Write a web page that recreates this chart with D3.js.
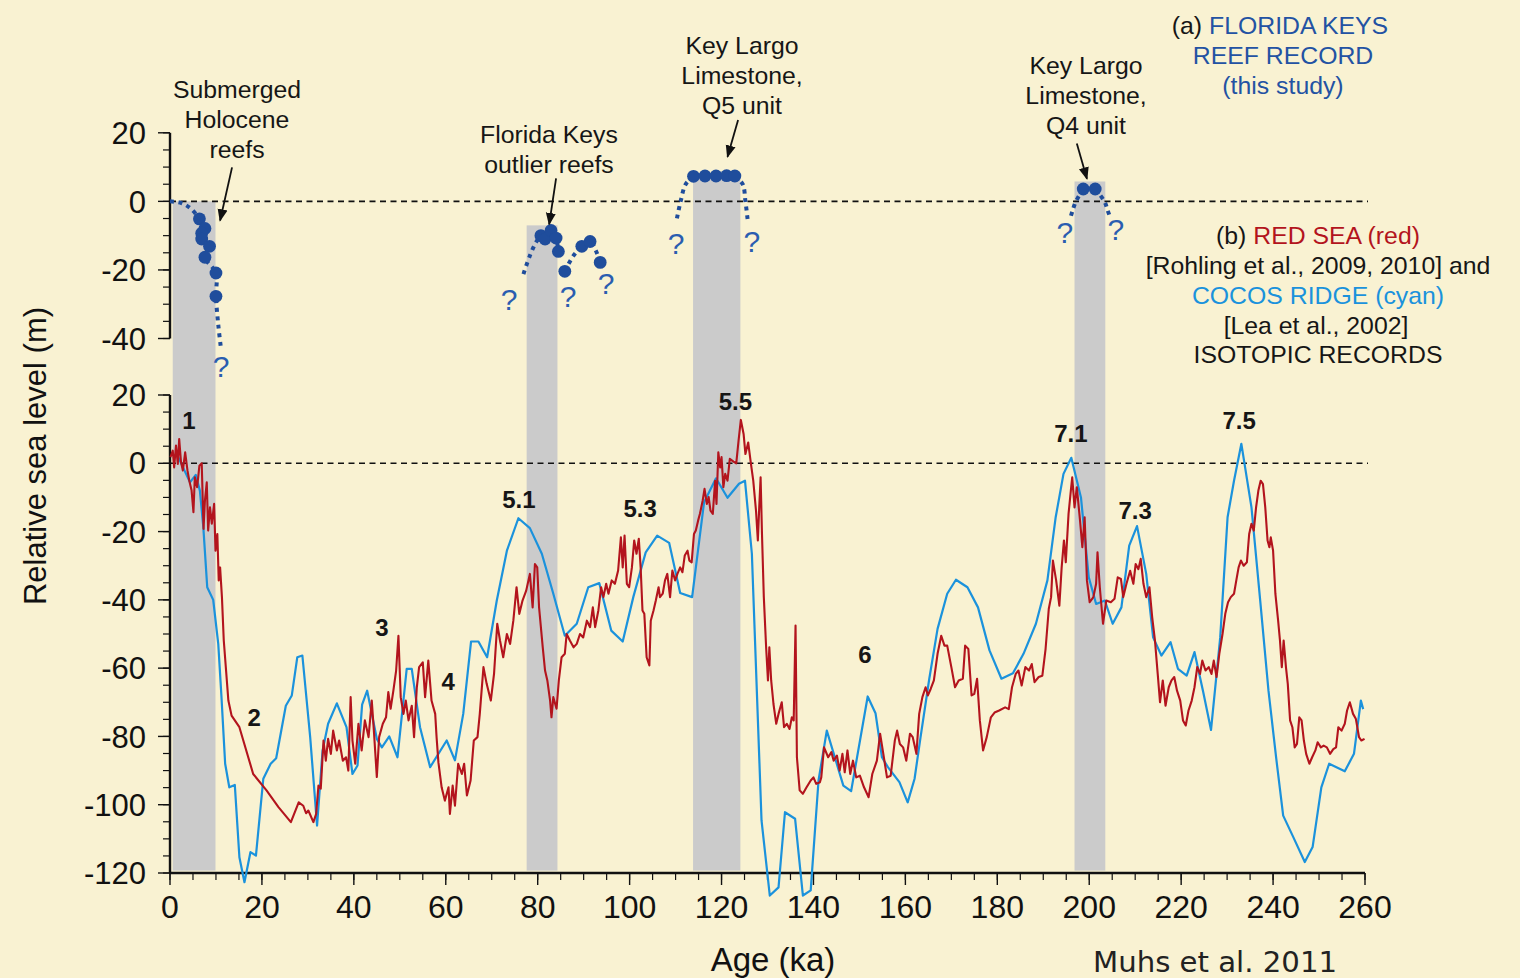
<!DOCTYPE html>
<html><head><meta charset="utf-8">
<script src="https://cdn.jsdelivr.net/npm/d3@7"></script>
<style>html,body{margin:0;padding:0;background:#f9f2d2;}svg{display:block;}</style>
</head><body>
<svg id="chart" width="1520" height="978"></svg>
<script>
// ---------- DATA ----------
const xTicks = [0,20,40,60,80,100,120,140,160,180,200,220,240,260];
const yTicksLower = [20,0,-20,-40,-60,-80,-100,-120];
const yTicksUpper = [20,0,-20,-40];

// grey bands: start ka, end ka, top (m, upper-panel scale)
const bandStart = [0.6, 77.6, 113.8, 196.8];
const bandEnd   = [9.9, 84.3, 124.1, 203.5];
const bandTop   = [0, -7, 7.5, 5.8];

// Florida Keys reef record dots [ka, m]
const holoceneDots = [[6.4,-5.1],[7.6,-7.9],[6.9,-9.3],[6.9,-11],[8.6,-13.1],[7.6,-16.3],[10,-20.9],[10,-27.7]];
const outlierDots = [[80.7,-10],[81.6,-11],[82.9,-8.5],[84,-10.7],[84.5,-14.6],[85.9,-20.4],[89.6,-13.1],[91.4,-11.7],[93.6,-17.8]];
const q5Dots = [[113.9,7.3],[116.4,7.4],[118.8,7.4],[121.1,7.5],[122.9,7.4]];
const q4Dots = [[198.7,3.6],[201.3,3.6]];

// dotted reef paths [ka, m]
const reefPaths = [
  [[0,0],[2.5,-0.5],[4.6,-2.2],[6.4,-5.1],[7.6,-7.9],[6.9,-9.3],[6.9,-11],[8.6,-13.1],[7.6,-16.3],[10,-20.9],[10,-27.7],[10.5,-36],[11.1,-43]],
  [[76.9,-21.2],[78.4,-15.5],[79.7,-11.8],[80.7,-10],[82.9,-8.5],[84,-10.7],[84.5,-14.6]],
  [[85.9,-20.4],[87.6,-16.2],[89.6,-13.1],[91.4,-11.7],[92.6,-14.2],[93.6,-17.8]],
  [[113.9,7.3],[112.2,5],[111.1,0],[110.2,-5.6]],
  [[122.9,7.4],[124.6,5],[125.2,0],[125.7,-5.6]],
  [[198.7,3.6],[197.1,0],[196.3,-3],[195.9,-4.8]],
  [[201.3,3.6],[203.3,0],[204.1,-3],[204.6,-4.8]]
];
const questionMarks = [[11.1,-48.2],[73.8,-28.4],[86.6,-27.8],[94.9,-24],[110.1,-12.3],[126.6,-11.7],[194.7,-9.1],[205.8,-8.2]];

// arrows [fromKa, fromM, toKa, toM] (upper scale)
const arrows = [[13.5,9.9,10.9,-5.6],[84,6.7,82.5,-6.7],[123.6,23.7,121.3,13],[197.3,16.9,199.5,6.6]];

// Red Sea record [ka, m]
const redSea = [
[0.1,1.8],[0.6,3.7],[0.9,-1.2],[1.3,5.2],[1.7,-0.2],[2.0,7.1],[2.4,0.3],[2.8,-2.1],[3.3,3.2],[3.8,-2.1],[4.2,-5.1],[4.7,-8],[5.1,-14.3],[5.4,-4.1],[5.9,-7],[6.4,-0.7],[6.9,0],[7.3,-19.2],[7.6,-10.9],[8.0,-5.6],[8.3,-19.7],[8.7,-12.9],[9.1,-17.7],[9.6,-11.9],[9.9,-25.6],[10.3,-20.7],[10.6,-34.3],[10.9,-30.5],[11.3,-39.2],[11.7,-51.9],[12.7,-69.5],[13.4,-73.9],[15.1,-77.3],[18.1,-91],[21.0,-95.8],[23.6,-100.7],[26.3,-105.1],[28.0,-99.3],[29.0,-100.3],[29.6,-102.5],[30.1,-101.7],[31.2,-105.1],[31.8,-102.7],[32.3,-94.4],[32.8,-95.3],[33.4,-81.2],[33.9,-87.1],[34.4,-80.7],[35.0,-85.1],[35.5,-78.3],[36.3,-84.1],[36.8,-81.2],[37.6,-87.1],[38.3,-86.1],[38.8,-90],[39.3,-68.5],[39.7,-81.2],[40.3,-88],[41.0,-76.3],[41.7,-84.1],[42.4,-75.3],[43.2,-80.2],[43.9,-69.5],[44.4,-79.2],[45.0,-91.9],[45.5,-80.2],[46.3,-76.3],[47.0,-74.4],[47.5,-67],[48.0,-71.9],[48.6,-66.6],[49.2,-60.7],[49.7,-50.5],[50.2,-68.5],[50.8,-73.4],[51.3,-69.5],[51.9,-75.3],[52.6,-71],[53.1,-80.2],[53.7,-65.6],[54.2,-59.7],
[55.0,-58.3],[55.5,-68.5],[56.2,-57.8],[56.9,-69.5],[57.7,-73.4],[58.0,-80.2],[58.4,-87.6],[59.1,-94.9],[59.8,-98.8],[60.6,-94.9],[60.9,-102.7],[61.5,-94.4],[62.0,-100.3],[62.7,-88],[63.5,-91],[64.0,-88],[64.6,-97.3],[65.4,-92.9],[66.1,-81.2],[66.9,-80.2],[67.4,-73.4],[68.2,-59.7],[68.9,-64.6],[69.8,-69.5],[70.5,-61.7],[71.2,-47],[71.8,-51.9],[72.5,-56.8],[73.3,-50],[74.0,-52.9],[74.7,-46.1],[75.4,-36.3],[76.0,-44.1],[76.7,-40.2],[77.5,-37.3],[78.3,-32.4],[78.9,-42.2],[79.4,-29.5],[79.9,-30.5],[80.3,-42.2],[81.1,-53.9],[81.6,-60.7],[82.1,-63.6],[82.7,-69.5],[83.0,-74.4],[83.4,-68.5],[84.1,-71.9],[84.6,-63.6],[85.2,-56.8],[85.9,-55.8],[86.3,-50],[87.0,-51.9],[87.8,-53.9],[88.5,-52.9],[89.2,-50],[89.9,-51],[90.7,-46.1],[91.4,-48],[92.0,-42.2],[92.5,-48],[93.2,-43.1],[93.8,-36.3],[94.3,-39.2],[94.9,-35.3],[95.4,-38.2],[96.1,-34.3],[96.8,-35.3],[97.5,-31.4],[98.1,-21.7],[98.5,-30.5],[98.9,-21.2],[99.4,-35.3],[99.9,-36.3],[100.5,-30.5],[101.0,-22.6],[101.5,-26.5],[102.0,-22.1],[102.4,-30.5],[102.8,-43.1],[103.2,-44.1],[103.7,-56.8],[104.3,-59.2],[104.6,-46.1],[105.2,-43.1],[105.7,-40.2],[106.3,-36.3],[106.6,-39.2],[107.2,-38.2],[107.7,-34.3],[108.2,-32.4],[108.8,-39.2],[109.3,-31.4],[109.9,-34.3],[110.4,-32.4],[111.0,-30.5],[111.5,-31.9],[112.0,-27],[112.6,-25.6],[113.0,-28.5],[113.5,-29],[114.0,-20.7],[114.4,-19.7],[114.9,-16.8],[115.3,-14.8],[115.9,-10.9],[116.3,-7.5],[116.8,-11.9],[117.2,-9.9],[117.6,-13.9],[118.1,-14.8],[118.6,-5.1],[118.9,-11.9],[119.3,3.2],[119.7,-1.2],[120.0,1.8],[120.4,-7],[120.8,-3.1],[121.3,-5.1],[121.8,1.3],[122.6,0.5],[123.2,0],[123.7,6.6],[124.2,12.7],[124.8,8.6],[125.2,2.7],[125.8,6.1],[126.4,-0.2],[126.9,-5.1],[127.5,-13.9],[127.9,-22.6],[128.2,-12.9],[128.5,-4.1],[128.8,-20.7],[129.2,-39.2],[129.7,-53.9],[130.1,-63.6],[130.4,-53.9],[130.8,-63.6],[131.3,-70.5],[131.9,-76.3],[132.4,-73.4],[133.1,-70],[133.6,-77.3],[134.2,-76.3],[134.8,-77.8],[135.3,-74.4],[135.7,-75.3],[136.1,-47.5],[136.4,-86.1],[137.0,-95.8],[137.7,-96.8],[138.5,-94.9],[139.4,-92.9],[140.0,-92],[140.6,-93.9],[141.4,-93.4],
[141.7,-92],[142.3,-83.2],[143.2,-86.1],[143.9,-84.6],[144.4,-87.1],[145.1,-85.6],[145.7,-90],[146.3,-85.1],[146.8,-90.5],[147.4,-84.1],[148.0,-91],[148.6,-87.1],[149.3,-92],[150.1,-91.5],[151.0,-94.9],[152.0,-97.8],[152.8,-91],[153.8,-87.1],[154.5,-79.2],[155.2,-85.1],[156.0,-92],[156.8,-91.5],[157.7,-81.2],[158.2,-78.3],[158.8,-82.2],[159.5,-83.2],[160.2,-87.1],[161.0,-79.2],[161.6,-80.2],[162.4,-85.1],[163.0,-73.4],[163.7,-68.5],[164.4,-65.6],[164.9,-68],[165.5,-66.1],[166.2,-63.6],[167.0,-55.8],[167.8,-50.5],[168.5,-53.4],[169.1,-53.4],[170.0,-59.7],[170.8,-65.6],[171.6,-63.6],[172.5,-63.1],[173.0,-53.4],[173.7,-54.4],[174.4,-68],[175.0,-67.5],[175.6,-63.1],[176.2,-75.3],[176.9,-84.1],[177.7,-80.2],[178.6,-74.4],[179.4,-73],[180.4,-72.4],[181.7,-71.5],[182.5,-72],[183.2,-65.6],[184.0,-61.7],[184.6,-60.7],[185.3,-65.1],[186.1,-59.7],[186.9,-60.7],[187.5,-58.8],[188.1,-64.1],[189.0,-62.6],[189.8,-62.2],[190.5,-54.4],[191.2,-42.6],[191.7,-39.2],[192.1,-28.5],[192.8,-34.3],[193.5,-41.7],[194.0,-30.5],[194.5,-22.6],[194.9,-29],[195.5,-14.8],[196.0,-8],[196.3,-4.1],[196.8,-12.9],[197.3,-7],[198.0,-16.8],[198.5,-24.6],[199.0,-15.8],[199.5,-34.3],[200.1,-40.7],[200.9,-39.2],[201.5,-35.3],[201.8,-26.1],[202.3,-36.3],[203.0,-47],[203.7,-40.2],[204.7,-40.7],[205.5,-39.7],[206.2,-33.4],[206.9,-33.9],[207.4,-39.2],[208.1,-35.3],[208.9,-31.5],[209.6,-35.3],[210.1,-29.5],[210.7,-31],[211.2,-28],[211.8,-35.3],[212.4,-39.2],[213.1,-36.3],[213.7,-45.1],[214.3,-51.9],[214.9,-61.7],[215.4,-70],[216.0,-63.6],[216.6,-71],[217.3,-65.6],[217.9,-63.6],[218.5,-62.6],[219.1,-66.6],[219.8,-69.5],[220.4,-75.3],[221.0,-76.8],[221.6,-72.4],[222.3,-69.5],[222.9,-65.6],[223.5,-59.7],[224.1,-61.7],[224.6,-57.8],[225.3,-60.7],[226.0,-59.7],[226.6,-61.7],[227.1,-57.8],[227.7,-62.6],[228.3,-55.8],[229.0,-50],[229.6,-44.1],[230.2,-40.7],[230.8,-39.2],[231.5,-38.2],[232.0,-34.3],[232.5,-30.5],[233.0,-28.5],[233.6,-30],[234.3,-29],[234.8,-20.7],[235.3,-17.7],[235.8,-19.7],[236.3,-12.9],[236.8,-8],[237.3,-5.1],[237.8,-6.1],[238.3,-12.9],[238.8,-22.6],[239.2,-24.6],[239.5,-21.7],[240.0,-25.6],[240.5,-38.2],[241.1,-46.1],[241.5,-51.9],[241.9,-59.7],[242.3,-51.9],[242.8,-59.7],[243.2,-64.6],[243.7,-75.3],[244.2,-77.3],[244.7,-83.2],[245.2,-82.2],[245.7,-74.4],[246.2,-75.3],[246.7,-81.2],[247.2,-85.1],[247.9,-88],[248.5,-86.1],[249.2,-84.1],[249.7,-81.7],[250.4,-83.2],[251.0,-82.7],[251.7,-83.2],[252.4,-85.1],[253.1,-83.7],[253.7,-83.2],[254.2,-77.3],[254.9,-78.3],[255.6,-76.3],[256.1,-72.4],[256.7,-70],[257.4,-73.4],[258.0,-74.8],[258.7,-80.2],[259.2,-81.2],[259.9,-80.7]
];

// Cocos Ridge record [ka, m]
const cocosRidge = [
[1.8,1.8],[4.35,-5.6],[5.6,-3.4],[6.5,-8],[7.25,-18.7],[8.1,-36.3],[9.4,-40],[10.5,-52.9],[11.2,-68.5],[12.0,-88],[12.9,-94.9],[14.1,-94.2],[15.1,-115.4],[16.2,-122.7],[17.5,-113.9],[18.7,-114.9],[20.3,-92.4],[21.9,-88],[23.1,-86.4],[25.2,-71],[26.5,-68],[27.7,-56.8],[28.8,-56.3],[30.5,-80.2],[32.0,-106.1],[33.2,-84.1],[34.4,-76.3],[36.3,-70.3],[38.4,-77.3],[39.7,-91],[40.8,-88.5],[41.8,-70.7],[42.9,-66.6],[45.0,-80.7],[46.1,-83.2],[47.7,-80],[49.5,-86.1],[51.5,-60.2],[52.6,-60.2],[54.4,-77.3],
[56.6,-89],[60.2,-81.2],[62.0,-87],[63.8,-73.4],[65.5,-52.2],[67.1,-52.2],[69.0,-56.8],[71.1,-40.2],[73.3,-25.6],[75.8,-16.1],[78.3,-19],[80.9,-26.5],[83.4,-38.2],[85.9,-50.5],[88.5,-47],[91.0,-36.3],[93.4,-35.1],[96.0,-49],[98.5,-52.2],[100.8,-39.2],[103.5,-26.1],[106.0,-21.2],[108.6,-23.3],[111.0,-38],[113.6,-39.2],[116.2,-11.4],[118.8,-4.4],[121.3,-10.1],[123.8,-6],[125.1,-5.1],[126.6,-26.5],[128.7,-104.6],[130.5,-126.6],[132.4,-124.2],[133.8,-102.2],[136.0,-104.1],[137.7,-126.6],[139.4,-125.1],[141.1,-92.9],
[142.9,-78.3],[146.5,-94.4],[148.2,-96],[151.8,-68.3],[153.5,-73.2],[154.9,-86.1],[156.2,-89],[158.7,-93.4],[160.5,-99.3],[162.0,-92.4],[163.3,-80.2],[165.2,-63.1],[167.0,-48.5],[169.1,-38.2],[171.0,-34.1],[173.5,-36.3],[175.8,-42.2],[178.3,-54.8],[180.9,-63.1],[183.4,-61.5],[185.7,-55.8],[188.4,-47],[190.9,-34.3],[192.7,-15.8],[194.4,-3.1],[196.1,1.6],[198.2,-10],[199.9,-33.4],[201.5,-41.2],[203.4,-40.2],[205.1,-47],[207.0,-42.2],[208.7,-24.1],[210.4,-18.4],[212.4,-32.4],[213.9,-51],[215.7,-56.3],[217.7,-52.4],[219.3,-60.2],[221.2,-62.2],[222.9,-55.3],[224.8,-67],[226.5,-78.1],[228.5,-51],[230.1,-15.8],[231.5,-5.1],[233.1,5.7],[235.3,-12.9],[237.2,-40.2],[239.0,-66.6],[240.7,-86.6],[242.2,-103.2],[244.4,-109.5],[246.9,-116.8],[248.6,-112.4],[250.5,-94.9],[252.2,-88],[255.6,-90.2],[257.6,-85.1],[259.1,-69.5],[259.6,-72]
];

// stage labels [text, ka, m]
const stageText = ["1","2","3","4","5.1","5.3","5.5","6","7.1","7.3","7.5"];
const stageKa   = [4.1,18.3,46.1,60.5,75.9,102.3,123,151.2,196,210,232.6];
const stageM    = [12.5,-74.5,-48.2,-64,-10.7,-13.3,18.1,-56,8.7,-13.9,12.5];

// ---------- DRAW ----------
const svg = d3.select("#chart");
const W = 1520, H = 978;
svg.append("rect").attr("width",W).attr("height",H).attr("fill","#f9f2d2");

const x = d3.scaleLinear().domain([0,260]).range([170,1365]);
const yU = d3.scaleLinear().domain([20,-40]).range([132.8,338.5]);
const yL = d3.scaleLinear().domain([20,-120]).range([395,873]);

const FONT = "'Liberation Sans', Arial, Helvetica, sans-serif";
const BLUE = "#2352a3", DOT = "#1f4d9c", RED = "#b3141d", CYAN = "#1b92dc";

// bands
const bands = bandStart.map((s,i)=>({s, e: bandEnd[i], t: bandTop[i]}));
svg.append("g").selectAll("rect").data(bands).join("rect")
  .attr("x", d=>x(d.s)).attr("width", d=>x(d.e)-x(d.s))
  .attr("y", d=>yU(d.t)).attr("height", d=>yL(-119.3)-yU(d.t))
  .attr("fill","#cbcbcb");

// zero lines
[yU(0), yL(0)].forEach(yy=>{
  svg.append("line").attr("x1",x(0)).attr("x2",x(260)+3).attr("y1",yy).attr("y2",yy)
    .attr("stroke","#111").attr("stroke-width",1.6).attr("stroke-dasharray","6,4.5");
});

// axes
function yAxis(scale, majors, lo, hi){
  const g = svg.append("g").attr("transform",`translate(${x(0)},0)`);
  g.append("line").attr("x1",0).attr("x2",0).attr("y1",scale(hi)).attr("y2",scale(lo))
    .attr("stroke","#111").attr("stroke-width",2.4);
  const minors = d3.range(lo, hi+0.1, 5);
  g.selectAll(".mn").data(minors).join("line")
    .attr("x1",-7).attr("x2",0).attr("y1",d=>scale(d)).attr("y2",d=>scale(d))
    .attr("stroke","#111").attr("stroke-width",1.2);
  g.selectAll(".mj").data(majors).join("line")
    .attr("x1",-12).attr("x2",0).attr("y1",d=>scale(d)).attr("y2",d=>scale(d))
    .attr("stroke","#111").attr("stroke-width",1.4);
  g.selectAll("text").data(majors).join("text")
    .attr("x",-24).attr("y",d=>scale(d)).attr("dy","0.36em")
    .attr("text-anchor","end").attr("font-family",FONT).attr("font-size",31)
    .attr("fill","#111").text(d=>d);
}
yAxis(yU, yTicksUpper, -40, 20);
yAxis(yL, yTicksLower, -120, 20);

// x axis
const gx = svg.append("g").attr("transform",`translate(0,${yL(-120)})`);
gx.append("line").attr("x1",x(0)).attr("x2",x(260)).attr("stroke","#111").attr("stroke-width",2.4);
gx.selectAll(".mn").data(d3.range(0,261,5)).join("line")
  .attr("x1",d=>x(d)).attr("x2",d=>x(d)).attr("y1",0).attr("y2",7)
  .attr("stroke","#111").attr("stroke-width",1.2);
gx.selectAll(".mj").data(xTicks).join("line")
  .attr("x1",d=>x(d)).attr("x2",d=>x(d)).attr("y1",0).attr("y2",12)
  .attr("stroke","#111").attr("stroke-width",1.4);
gx.selectAll("text").data(xTicks).join("text")
  .attr("x",d=>x(d)).attr("y",45).attr("text-anchor","middle")
  .attr("font-family",FONT).attr("font-size",32).attr("fill","#111").text(d=>d);

// axis titles
svg.append("text").attr("transform","translate(46,456) rotate(-90)")
  .attr("text-anchor","middle").attr("font-family",FONT).attr("font-size",31)
  .attr("fill","#111").text("Relative sea level (m)");
svg.append("text").attr("x",773).attr("y",971).attr("text-anchor","middle")
  .attr("font-family",FONT).attr("font-size",33).attr("fill","#111").text("Age (ka)");
svg.append("text").attr("x",1093).attr("y",972)
  .attr("font-family","'DejaVu Sans', sans-serif").attr("font-size",28)
  .attr("textLength",244).attr("lengthAdjust","spacingAndGlyphs")
  .attr("fill","#222").text("Muhs et al. 2011");

// curves
const lineL = d3.line().x(d=>x(d[0])).y(d=>yL(d[1]));
svg.append("path").datum(cocosRidge).attr("d",lineL).attr("fill","none")
  .attr("stroke",CYAN).attr("stroke-width",2.2).attr("stroke-linejoin","round");
svg.append("path").datum(redSea).attr("d",lineL).attr("fill","none")
  .attr("stroke",RED).attr("stroke-width",2.1).attr("stroke-linejoin","round");

// reef paths (dotted)
const lineU = d3.line().x(d=>x(d[0])).y(d=>yU(d[1])).curve(d3.curveCatmullRom);
svg.append("g").selectAll("path").data(reefPaths).join("path")
  .attr("d",lineU).attr("fill","none").attr("stroke",DOT).attr("stroke-width",4)
  .attr("stroke-dasharray","4,4.5");

// dots
const allDots = holoceneDots.concat(outlierDots, q5Dots, q4Dots);
svg.append("g").selectAll("circle").data(allDots).join("circle")
  .attr("cx",d=>x(d[0])).attr("cy",d=>yU(d[1])).attr("r",6.4).attr("fill",DOT);

// question marks
svg.append("g").selectAll("text").data(questionMarks).join("text")
  .attr("x",d=>x(d[0])).attr("y",d=>yU(d[1])).attr("dy","0.36em")
  .attr("text-anchor","middle").attr("font-family",FONT).attr("font-size",30)
  .attr("fill","#2a5db0").text("?");

// arrows
const defs = svg.append("defs");
defs.append("marker").attr("id","ah").attr("viewBox","0 0 10 10").attr("refX",9).attr("refY",5)
  .attr("markerWidth",7).attr("markerHeight",7).attr("orient","auto")
  .append("path").attr("d","M0,1 L10,5 L0,9 z").attr("fill","#111");
svg.append("g").selectAll("line").data(arrows).join("line")
  .attr("x1",d=>x(d[0])).attr("y1",d=>yU(d[1])).attr("x2",d=>x(d[2])).attr("y2",d=>yU(d[3]))
  .attr("stroke","#111").attr("stroke-width",1.8).attr("marker-end","url(#ah)");

// annotation text
const AFS = 24.8;
function textBlock(lines, cx, cy0, color){
  lines.forEach((l,i)=>{
    svg.append("text").attr("x",cx).attr("y",cy0+i*30).attr("dy","0.36em")
      .attr("text-anchor","middle").attr("font-family",FONT).attr("font-size",AFS)
      .attr("fill",color||"#161616").text(l);
  });
}
textBlock(["Submerged","Holocene","reefs"],237,89);
textBlock(["Florida Keys","outlier reefs"],549,134);
textBlock(["Key Largo","Limestone,","Q5 unit"],742,45);
textBlock(["Key Largo","Limestone,","Q4 unit"],1086,65);

function richLine(parts, cx, cy){
  const t = svg.append("text").attr("x",cx).attr("y",cy).attr("dy","0.36em")
    .attr("text-anchor","middle").attr("font-family",FONT).attr("font-size",AFS);
  parts.forEach(p=>t.append("tspan").attr("fill",p[1]).text(p[0]));
}
richLine([["(a) ","#161616"],["FLORIDA KEYS",BLUE]],1280,25);
richLine([["REEF RECORD",BLUE]],1283,55);
richLine([["(this study)",BLUE]],1283,85);
richLine([["(b) ","#161616"],["RED SEA (red)",RED]],1318,235);
richLine([["[Rohling et al., 2009, 2010] and","#161616"]],1318,265);
richLine([["COCOS RIDGE (cyan)",CYAN]],1318,295);
richLine([["[Lea et al., 2002]","#161616"]],1316,325);
richLine([["ISOTOPIC RECORDS","#161616"]],1318,354);

// stage labels
svg.append("g").selectAll("text").data(stageText).join("text")
  .attr("x",(d,i)=>x(stageKa[i])).attr("y",(d,i)=>yL(stageM[i])).attr("dy","0.36em")
  .attr("text-anchor","middle").attr("font-family",FONT).attr("font-weight","bold")
  .attr("font-size",24).attr("fill","#161616").text(d=>d);
</script>
</body></html>
